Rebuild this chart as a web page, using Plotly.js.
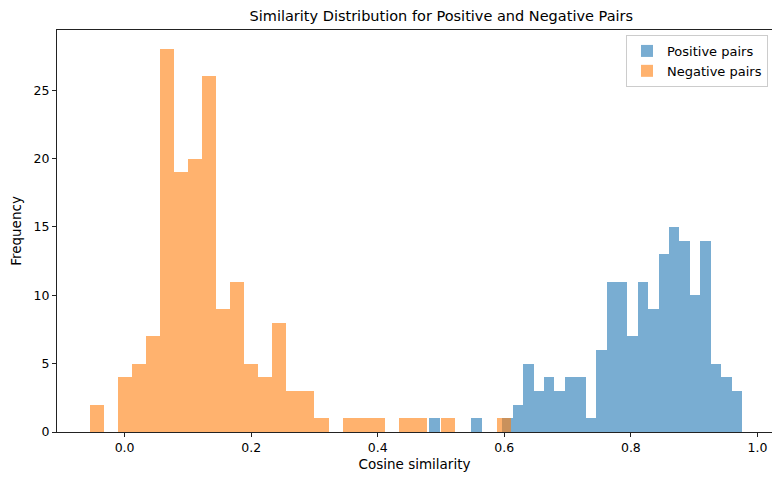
<!DOCTYPE html>
<html>
<head>
<meta charset="utf-8">
<script src="https://cdn.plot.ly/plotly-3.0.1.min.js"></script>
<style>html,body{margin:0;padding:0;background:#fff;}#chart{width:772px;height:480px;}</style>
</head>
<body>
<div id="chart"></div>
<script>
// Histogram bin settings, 30 bins each
const posBinStart = 0.4817;
const posBinEnd = 0.9755;
const negBinStart = -0.0553;
const negBinEnd = 0.6110;
const nBins = 30;

const positiveCounts = [1,0,0,0,1,0,0,1,2,5,3,4,3,4,4,1,6,11,11,7,11,9,13,15,14,10,14,5,4,3];
const negativeCounts = [2,0,4,5,7,28,19,20,26,9,11,5,4,8,3,3,1,0,1,1,1,0,1,1,0,1,0,0,0,1];

const seriesNames = ["Positive pairs", "Negative pairs"];
const xTickVals = [0, 0.2, 0.4, 0.6, 0.8, 1.0];
const xTickText = ["0.0", "0.2", "0.4", "0.6", "0.8", "1.0"];
const yTickVals = [0, 5, 10, 15, 20, 25];

function centers(start, end, n) {
  const w = (end - start) / n;
  return {w: w, x: Array.from({length: n}, (_, i) => start + w * (i + 0.5))};
}
const pos = centers(posBinStart, posBinEnd, nBins);
const neg = centers(negBinStart, negBinEnd, nBins);

const fam = "DejaVu Sans, sans-serif";

const traces = [
  {type: "bar", name: seriesNames[0], x: pos.x, y: positiveCounts, width: pos.w,
   marker: {color: "rgba(31,119,180,0.6)", line: {width: 0}}},
  {type: "bar", name: seriesNames[1], x: neg.x, y: negativeCounts, width: neg.w,
   marker: {color: "rgba(255,127,14,0.6)", line: {width: 0}}}
];

const layout = {
  width: 772, height: 480,
  margin: {l: 57, r: 0, t: 30, b: 48, pad: 0},
  paper_bgcolor: "#fff", plot_bgcolor: "#fff",
  font: {family: fam, color: "#000", size: 12.5},
  barmode: "overlay", bargap: 0,
  title: {text: "Similarity Distribution for Positive and Negative Pairs",
          font: {family: fam, size: 14.5, color: "#000"},
          x: 0.5375, xref: "paper", xanchor: "center", y: 1 - 16/480, yref: "container", yanchor: "middle"},
  xaxis: {
    range: [-0.1068, 1.023], tickvals: xTickVals, ticktext: xTickText,
    showgrid: false, zeroline: false, showline: true, linecolor: "#222", linewidth: 1, mirror: true,
    ticks: "outside", ticklen: 4, tickwidth: 1, tickcolor: "#222",
    tickfont: {size: 12.5, family: fam, color: "#000"},
    title: {text: "Cosine similarity", font: {size: 13.5, family: fam, color: "#000"}, standoff: 5}
  },
  yaxis: {
    range: [0, 29.4], tickvals: yTickVals,
    showgrid: false, zeroline: false, showline: true, linecolor: "#222", linewidth: 1,
    ticks: "outside", ticklen: 4, tickwidth: 1, tickcolor: "#222",
    tickfont: {size: 12.5, family: fam, color: "#000"},
    title: {text: "Frequency", font: {size: 13.5, family: fam, color: "#000"}, standoff: 8}
  },
  legend: {x: 0.9944, xanchor: "right", y: 0.9876, yanchor: "top",
           bordercolor: "#cccccc", borderwidth: 1, bgcolor: "rgba(255,255,255,0.8)",
           font: {size: 13, family: fam, color: "#000"}, traceorder: "normal",
           itemwidth: 30}
};

Plotly.newPlot("chart", traces, layout, {displayModeBar: false, staticPlot: true});
</script>
</body>
</html>
